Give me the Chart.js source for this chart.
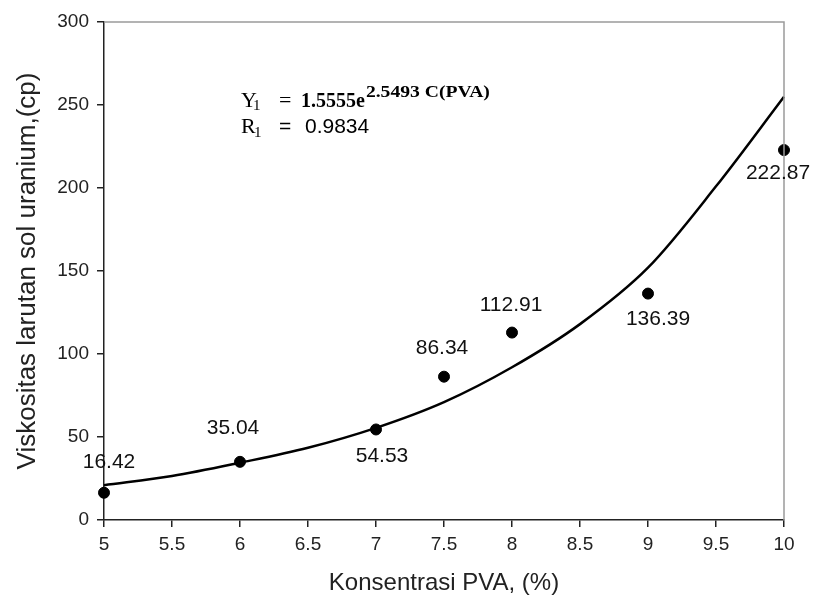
<!DOCTYPE html>
<html lang="id">
<head>
<meta charset="UTF-8">
<title>Viskositas larutan sol uranium</title>
<script src="https://cdn.jsdelivr.net/npm/chart.js@4"></script>
<style>
  body { margin: 0; background: #fff; }
</style>
</head>
<body>
<canvas id="chart" width="814" height="601"></canvas>
<script>
    // titik pengukuran
    const KONSENTRASI = [5, 6, 7, 7.5, 8, 9, 10];
    const VISKOSITAS = [16.42, 35.04, 54.53, 86.34, 112.91, 136.39, 222.87];

    // kurva tren
    const TREN_X = [5, 5.5, 6, 6.5, 7, 7.5, 8, 8.5, 9, 9.5, 10];
    const TREN_Y = [21, 26.5, 34.5, 43.5, 55.5, 71, 92, 118, 152, 201, 255];

    // geser label angka terhadap titiknya (px)
    const LABEL_DX = [5, -7, 6, -2, -1, 10, -6];
    const LABEL_DY = [-31, -34, 27, -28, -27, 26, 23];

    const SANS = '"Liberation Sans", Arial, sans-serif';
    const SERIF = '"Liberation Serif", "Times New Roman", serif';

    const extras = {
        id: 'extras',
        afterDatasetsDraw(chart) {
            const ctx = chart.ctx;
            const a = chart.chartArea;
            ctx.save();

            // bingkai atas & kanan (abu-abu)
            ctx.strokeStyle = '#9a9a9a';
            ctx.lineWidth = 1.5;
            ctx.beginPath();
            ctx.moveTo(a.left, a.top);
            ctx.lineTo(a.right, a.top);
            ctx.lineTo(a.right, a.bottom);
            ctx.stroke();

            // label nilai
            const meta = chart.getDatasetMeta(1);
            ctx.fillStyle = '#111';
            ctx.font = '21px ' + SANS;
            ctx.textAlign = 'center';
            ctx.textBaseline = 'middle';
            meta.data.forEach((pt, i) => {
                ctx.fillText(VISKOSITAS[i].toFixed(2), pt.x + LABEL_DX[i], pt.y + LABEL_DY[i]);
            });

            // persamaan
            ctx.textAlign = 'left';
            ctx.textBaseline = 'alphabetic';
            ctx.fillStyle = '#000';
            ctx.font = '22px ' + SERIF;
            ctx.fillText('Y', 241, 107);
            ctx.font = '15px ' + SERIF;
            ctx.fillText('1', 253, 110);
            ctx.font = '22px ' + SERIF;
            ctx.fillText('=', 279, 107);
            ctx.font = 'bold 20px ' + SERIF;
            ctx.fillText('1.5555e', 301, 107);
            const sx = 301 + ctx.measureText('1.5555e').width + 1;
            ctx.font = 'bold 16px ' + SERIF;
            const sup = '2.5493 C(PVA)';
            const k = 124 / ctx.measureText(sup).width;
            ctx.save();
            ctx.translate(sx, 97);
            ctx.scale(k, 1);
            ctx.fillText(sup, 0, 0);
            ctx.restore();

            ctx.font = '22px ' + SERIF;
            ctx.fillText('R', 241, 133);
            ctx.font = '15px ' + SERIF;
            ctx.fillText('1', 254, 137);
            ctx.font = '21px ' + SANS;
            ctx.fillText('=', 279, 133);
            ctx.fillText('0.9834', 305, 133);

            ctx.restore();
        }
    };

    new Chart(document.getElementById('chart'), {
        type: 'scatter',
        data: {
            datasets: [{
                type: 'line',
                data: TREN_X.map((v, i) => ({ x: v, y: TREN_Y[i] })),
                borderColor: '#000',
                borderWidth: 2.5,
                pointRadius: 0,
                cubicInterpolationMode: 'monotone',
                fill: false,
                clip: false
            }, {
                data: KONSENTRASI.map((v, i) => ({ x: v, y: VISKOSITAS[i] })),
                backgroundColor: '#000',
                borderColor: '#000',
                pointRadius: 5.5,
                pointHoverRadius: 5.5,
                clip: false
            }]
        },
        options: {
            responsive: false,
            devicePixelRatio: 1,
            animation: false,
            layout: { padding: { top: 22, right: 30, left: 0, bottom: 0 } },
            plugins: { legend: { display: false }, tooltip: { enabled: false } },
            scales: {
                x: {
                    type: 'linear',
                    min: 5, max: 10,
                    afterFit(s) { s.height = 81; },
                    ticks: {
                        stepSize: 0.5,
                        color: '#222',
                        font: { family: SANS, size: 19 },
                        padding: 6,
                        maxRotation: 0,
                        callback: v => String(v)
                    },
                    grid: { drawOnChartArea: false, drawTicks: true, tickLength: 7, color: '#222', lineWidth: 1.5 },
                    border: { color: '#222', width: 1.5 },
                    title: {
                        display: true,
                        text: 'Konsentrasi PVA, (%)',
                        color: '#222',
                        font: { family: SANS, size: 24 },
                        padding: { top: 0, bottom: 3 }
                    }
                },
                y: {
                    min: 0, max: 300,
                    afterFit(s) { s.width = 104; },
                    ticks: {
                        stepSize: 50,
                        color: '#222',
                        font: { family: SANS, size: 19 },
                        padding: 8
                    },
                    grid: { drawOnChartArea: false, drawTicks: true, tickLength: 7, color: '#222', lineWidth: 1.5 },
                    border: { color: '#222', width: 1.5 },
                    title: {
                        display: true,
                        text: 'Viskositas larutan sol uranium,(cp)',
                        color: '#222',
                        font: { family: SANS, size: 26 },
                        padding: { top: 12, bottom: 0 }
                    }
                }
            }
        },
        plugins: [extras]
    });
</script>
</body>
</html>
